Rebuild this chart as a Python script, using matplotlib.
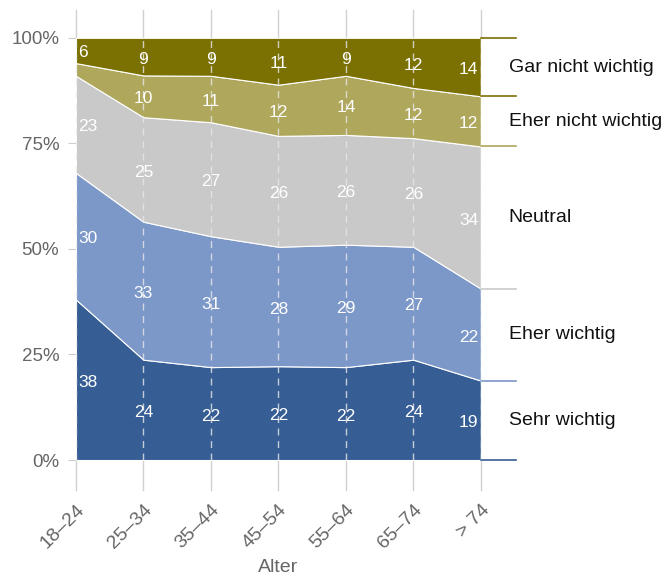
import numpy as np
import matplotlib
matplotlib.use('Agg')
import matplotlib.pyplot as plt

plt.rcParams['font.family'] = ['Liberation Sans', 'DejaVu Sans']

# Age groups and answer categories (bottom to top)
age_groups = ['18–24', '25–34', '35–44', '45–54', '55–64', '65–74', '> 74']
categories = ['Sehr wichtig', 'Eher wichtig', 'Neutral', 'Eher nicht wichtig', 'Gar nicht wichtig']

sehr_wichtig = [38, 24, 22, 22, 22, 24, 19]
eher_wichtig = [30, 33, 31, 28, 29, 27, 22]
neutral = [23, 25, 27, 26, 26, 26, 34]
eher_nicht_wichtig = [3, 10, 11, 12, 14, 12, 12]
gar_nicht_wichtig = [6, 9, 9, 11, 9, 12, 14]

colors = ['#365e95', '#7c98c9', '#c9c9c9', '#afa75b', '#7b7002']

series = np.array([sehr_wichtig, eher_wichtig, neutral, eher_nicht_wichtig, gar_nicht_wichtig], dtype=float)
shares = series / series.sum(axis=0) * 100
x = np.arange(len(age_groups))

fig = plt.figure(figsize=(6.66, 5.77), dpi=100)
ax = fig.add_axes([0.114, 0.1508, 0.608, 0.832])

ax.stackplot(x, shares, colors=colors, edgecolor='white', linewidth=0.8, zorder=2)

ymin, ymax = -7.1, 106.6
ax.set_xlim(0, len(age_groups) - 1)
ax.set_ylim(ymin, ymax)

# grid lines: solid outside the data, dashed inside
for xi in x:
    ax.plot([xi, xi], [100, ymax], color='#d0d0d0', lw=1, zorder=1, clip_on=False)
    ax.plot([xi, xi], [ymin, 0], color='#d0d0d0', lw=1, zorder=1, clip_on=False)
    ax.plot([xi, xi], [0, 100], color='#e8e8e8', lw=1, ls=(0, (5, 4)), alpha=0.8, zorder=3)

# value labels
bottoms = np.vstack([np.zeros(len(x)), np.cumsum(shares, axis=0)[:-1]])
for s in range(len(categories)):
    for i in range(len(x)):
        if series[s, i] < 5:
            continue
        mid = bottoms[s, i] + shares[s, i] / 2 - 0.6
        if i == 0:
            xx, ha = i + 0.04, 'left'
        elif i == len(x) - 1:
            xx, ha = i - 0.04, 'right'
        else:
            xx, ha = i, 'center'
        ax.text(xx, mid, f'{int(series[s, i])}', color='white', fontsize=12.5,
                ha=ha, va='center', zorder=4)

# legend at the right of the last column
last = len(x) - 1
tops = np.cumsum(shares[:, last])
lows = tops - shares[:, last]
for s in range(len(categories)):
    ax.plot([last, last + 0.52], [lows[s], lows[s]], color=colors[s], lw=1.2, clip_on=False)
    ax.text(last + 0.41, (lows[s] + tops[s]) / 2, categories[s], fontsize=14,
            color='#111111', ha='left', va='center')
ax.plot([last, last + 0.52], [100, 100], color=colors[-1], lw=1.2, clip_on=False)

for sp in ax.spines.values():
    sp.set_visible(False)

ax.set_yticks([0, 25, 50, 75, 100])
ax.set_yticklabels(['0%', '25%', '50%', '75%', '100%'])
ax.set_xticks(x)
ax.set_xticklabels(age_groups, rotation=45, ha='right', rotation_mode='anchor')
ax.tick_params(axis='y', length=6, color='#cccccc', labelcolor='#666666', labelsize=13.5, pad=6)
ax.tick_params(axis='x', length=0, labelcolor='#666666', labelsize=14, pad=8)
fig.text(0.114 + 0.608 / 2, 1 - 568 / 577, 'Alter', color='#666666', fontsize=14,
         ha='center', va='center')

fig.savefig('out.png', dpi=100)
